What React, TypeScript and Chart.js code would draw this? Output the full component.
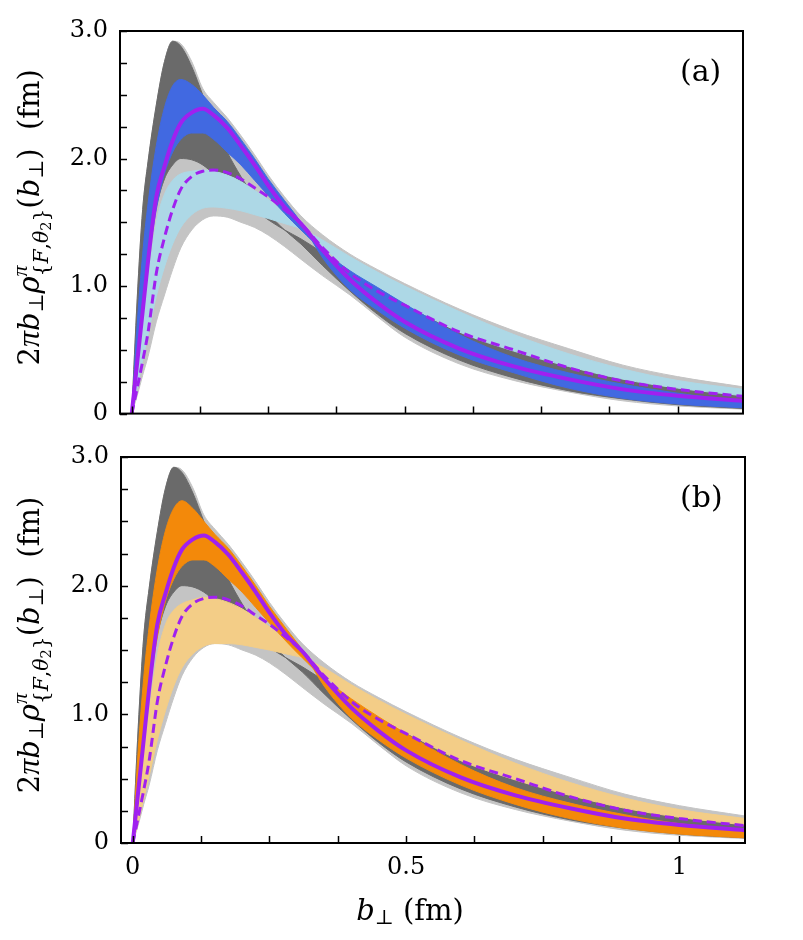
import React, { useEffect, useRef } from 'react';
import { Chart, registerables } from 'chart.js';

Chart.register(...registerables);

const FONT = '"DejaVu Serif", "Liberation Serif", serif';
const GREEK_FONT = '"Liberation Serif", "DejaVu Serif", serif';

// ---- data (b_perp in fm, density in fm) ----
const B_X = [0, 0.01, 0.02, 0.03, 0.045, 0.06, 0.075, 0.09, 0.11, 0.13, 0.15, 0.175, 0.2, 0.225, 0.25, 0.28, 0.31, 0.35, 0.4, 0.45, 0.5, 0.6, 0.7, 0.8, 0.9, 1.0, 1.12];

// purple reference curves
const PURPLE_SOLID = [0, 0.4, 0.8, 1.2, 1.7, 1.94, 2.14, 2.28, 2.36, 2.39, 2.34, 2.24, 2.1, 1.95, 1.79, 1.62, 1.49, 1.28, 1.05, 0.87, 0.72, 0.51, 0.37, 0.27, 0.19, 0.14, 0.1];
const PURPLE_DASHED = [0, 0.2, 0.41, 0.64, 1.1, 1.38, 1.6, 1.76, 1.86, 1.9, 1.91, 1.89, 1.84, 1.77, 1.7, 1.6, 1.49, 1.3, 1.1, 0.96, 0.85, 0.64, 0.5, 0.36, 0.255, 0.19, 0.135];

// gray ensemble: outer envelope and dense (dark) part
const GRAY_ENV_HI = [0, 0.9, 1.6, 1.98, 2.42, 2.76, 2.92, 2.9, 2.76, 2.55, 2.44, 2.32, 2.18, 2.03, 1.87, 1.7, 1.55, 1.4, 1.25, 1.13, 1.02, 0.82, 0.65, 0.51, 0.38, 0.29, 0.21];
const GRAY_ENV_LO = [0, 0.14, 0.3, 0.45, 0.72, 0.93, 1.13, 1.3, 1.44, 1.52, 1.55, 1.54, 1.5, 1.46, 1.4, 1.31, 1.21, 1.08, 0.93, 0.76, 0.6, 0.39, 0.26, 0.17, 0.1, 0.06, 0.035];
const GRAY_DARK_HI = [0, 0.9, 1.6, 1.98, 2.42, 2.76, 2.92, 2.88, 2.72, 2.5, 2.28, 2.05, 1.86, 1.7, 1.57, 1.44, 1.33, 1.16, 0.96, 0.78, 0.63, 0.42, 0.28, 0.18, 0.115, 0.07, 0.04];
const GRAY_DARK_LO = [0, 0.5, 0.95, 1.28, 1.62, 1.84, 1.95, 2.0, 1.99, 1.95, 1.88, 1.78, 1.69, 1.6, 1.52, 1.44, 1.37, 1.26, 1.11, 0.97, 0.85, 0.65, 0.5, 0.38, 0.28, 0.21, 0.15];

// panel (a): blue and light-blue ensembles
const BLUE_HI = [0, 0.7, 1.25, 1.65, 2.1, 2.4, 2.57, 2.62, 2.58, 2.5, 2.4, 2.29, 2.15, 2.0, 1.84, 1.67, 1.5, 1.22, 0.97, 0.81, 0.67, 0.46, 0.32, 0.2, 0.12, 0.075, 0.045];
const BLUE_LO = [0, 0.42, 0.82, 1.18, 1.6, 1.88, 2.05, 2.15, 2.2, 2.2, 2.15, 2.05, 1.95, 1.83, 1.71, 1.57, 1.44, 1.28, 1.12, 0.99, 0.86, 0.62, 0.44, 0.32, 0.23, 0.16, 0.1];
const LIGHTBLUE_HI = [0, 0.36, 0.72, 1.05, 1.5, 1.72, 1.83, 1.88, 1.9, 1.91, 1.9, 1.87, 1.82, 1.75, 1.68, 1.58, 1.48, 1.31, 1.12, 0.97, 0.86, 0.64, 0.49, 0.37, 0.27, 0.2, 0.14];
const LIGHTBLUE_LO = [0, 0.2, 0.42, 0.62, 0.92, 1.15, 1.33, 1.46, 1.56, 1.61, 1.62, 1.61, 1.59, 1.56, 1.53, 1.49, 1.45, 1.36, 1.23, 1.11, 1.0, 0.8, 0.62, 0.47, 0.35, 0.26, 0.19];

// panel (b): orange and light-orange ensembles
const ORANGE_HI = [0, 0.72, 1.28, 1.68, 2.13, 2.43, 2.6, 2.66, 2.6, 2.5, 2.4, 2.29, 2.15, 2.0, 1.84, 1.67, 1.5, 1.22, 0.97, 0.8, 0.66, 0.45, 0.3, 0.19, 0.115, 0.07, 0.04];
const ORANGE_LO = [0, 0.42, 0.82, 1.18, 1.6, 1.88, 2.05, 2.15, 2.2, 2.2, 2.15, 2.05, 1.95, 1.83, 1.71, 1.57, 1.44, 1.28, 1.12, 0.98, 0.85, 0.61, 0.43, 0.31, 0.22, 0.15, 0.1];
const LIGHTORANGE_HI = [0, 0.35, 0.7, 1.02, 1.46, 1.7, 1.81, 1.86, 1.89, 1.91, 1.9, 1.87, 1.82, 1.75, 1.68, 1.58, 1.48, 1.31, 1.12, 0.97, 0.86, 0.64, 0.49, 0.37, 0.27, 0.2, 0.14];
const LIGHTORANGE_LO = [0, 0.16, 0.34, 0.52, 0.8, 1.03, 1.22, 1.36, 1.47, 1.53, 1.55, 1.55, 1.54, 1.52, 1.5, 1.47, 1.44, 1.36, 1.23, 1.11, 1.0, 0.8, 0.62, 0.47, 0.35, 0.26, 0.19];

// axes
const X_MIN = -0.0215;
const X_MAX = 1.12;
const Y_MIN = 0;
const Y_MAX = 3.0;
const X_TICKS = [0, 0.125, 0.25, 0.375, 0.5, 0.625, 0.75, 0.875, 1.0];
const X_MAJOR = [0, 0.5, 1];
const X_MAJOR_LABELS = ['0', '0.5', '1'];
const Y_TICKS = [0, 0.25, 0.5, 0.75, 1.0, 1.25, 1.5, 1.75, 2.0, 2.25, 2.5, 2.75, 3.0];
const Y_MAJOR = [0, 1, 2, 3];
const Y_MAJOR_LABELS = ['0', '1.0', '2.0', '3.0'];

const COLORS = {
  grayLight: 'rgb(196,196,196)',
  grayDark: 'rgb(106,106,106)',
  blue: 'rgb(65,105,225)',
  lightBlue: 'rgb(173,216,230)',
  orange: 'rgb(243,137,10)',
  lightOrange: 'rgb(243,205,135)',
  purple: 'rgb(160,32,240)',
};

type Seg = { t: string; it?: boolean; sc?: number; dy?: number; ov?: boolean; g?: boolean };

const Y_LABEL: Seg[] = [
  { t: '2' }, { t: 'π', it: true, g: true, sc: 1.1 }, { t: 'b', it: true }, { t: '⊥', sc: 0.7, dy: 0.15 },
  { t: 'ρ', it: true }, { t: 'π', it: true, g: true, sc: 0.75, dy: -0.42 },
  { t: '{', sc: 0.7, dy: 0.3, ov: true }, { t: 'F', it: true, sc: 0.7, dy: 0.3 }, { t: ',', sc: 0.7, dy: 0.3 },
  { t: 'θ', it: true, sc: 0.7, dy: 0.3 }, { t: '2', sc: 0.5, dy: 0.42 }, { t: '}', sc: 0.7, dy: 0.3 },
  { t: '(' }, { t: 'b', it: true }, { t: '⊥', sc: 0.7, dy: 0.15 }, { t: ')' }, { t: '  (fm)' },
];
const X_LABEL: Seg[] = [{ t: 'b', it: true }, { t: '⊥', sc: 0.7, dy: 0.15 }, { t: ' (fm)' }];

function drawRich(ctx: CanvasRenderingContext2D, segs: Seg[], size: number, cx: number, cy: number, rot: number) {
  const items: { s: Seg; x: number; font: string }[] = [];
  let x = 0;
  let prevStart = 0;
  for (const s of segs) {
    const fs = size * (s.sc ?? 1);
    const font = `${s.it ? 'italic ' : ''}${fs}px ${s.g ? GREEK_FONT : FONT}`;
    ctx.font = font;
    const w = ctx.measureText(s.t).width;
    const start = s.ov ? prevStart : x;
    items.push({ s, x: start, font });
    x = start + w;
    prevStart = start;
  }
  const total = x;
  ctx.save();
  ctx.translate(cx, cy);
  ctx.rotate(rot);
  ctx.fillStyle = '#000';
  ctx.textBaseline = 'alphabetic';
  ctx.textAlign = 'left';
  for (const it of items) {
    ctx.font = it.font;
    ctx.fillText(it.s.t, it.x - total / 2, (it.s.dy ?? 0) * size);
  }
  ctx.restore();
}

function pts(ys: number[]) {
  return B_X.map((x, i) => ({ x, y: ys[i] }));
}

function band(upper: number[], lower: number[], color: string, order: number, name: string) {
  const common = {
    borderColor: color,
    borderWidth: 1,
    pointRadius: 0,
    cubicInterpolationMode: 'monotone',
    order,
  };
  return [
    { ...common, label: name + ' upper', data: pts(upper), backgroundColor: color, fill: '+1' },
    { ...common, label: name + ' lower', data: pts(lower), backgroundColor: color, fill: false },
  ];
}

function makeDecor(panel: 'a' | 'b') {
  return {
    id: 'decor' + panel,
    afterDraw(chart: any) {
      const { ctx, chartArea: a, scales } = chart;
      ctx.save();
      ctx.strokeStyle = '#000';
      ctx.lineWidth = 1.5;
      ctx.beginPath();
      for (const t of scales.x.ticks) {
        const px = Math.round(scales.x.getPixelForValue(t.value)) + 0.5;
        ctx.moveTo(px, a.bottom);
        ctx.lineTo(px, a.bottom - 7);
      }
      for (const t of scales.y.ticks) {
        const py = Math.round(scales.y.getPixelForValue(t.value)) + 0.5;
        ctx.moveTo(a.left, py);
        ctx.lineTo(a.left + 7, py);
      }
      ctx.stroke();
      ctx.lineWidth = 2;
      ctx.strokeRect(a.left, a.top, a.right - a.left, a.bottom - a.top);
      ctx.fillStyle = '#000';
      ctx.font = `30px ${FONT}`;
      ctx.textAlign = 'left';
      ctx.textBaseline = 'alphabetic';
      ctx.fillText(panel === 'a' ? '(a)' : '(b)', 680, a.top + 50);
      ctx.restore();
      drawRich(ctx, Y_LABEL, 29, 39, (a.top + a.bottom) / 2 - 5, -Math.PI / 2);
      if (panel === 'b') {
        drawRich(ctx, X_LABEL, 29, 410, 500, 0);
      }
    },
  };
}

function makeConfig(panel: 'a' | 'b') {
  const isA = panel === 'a';
  const datasets: any[] = [
    {
      label: 'reference (solid)', data: pts(PURPLE_SOLID), borderColor: COLORS.purple, borderWidth: 4,
      pointRadius: 0, fill: false, cubicInterpolationMode: 'monotone', order: 1,
    },
    {
      label: 'reference (dashed)', data: pts(PURPLE_DASHED), borderColor: COLORS.purple, borderWidth: 3,
      borderDash: [9, 5], pointRadius: 0, fill: false, cubicInterpolationMode: 'monotone', order: 2,
    },
    ...band(isA ? BLUE_HI : ORANGE_HI, isA ? BLUE_LO : ORANGE_LO, isA ? COLORS.blue : COLORS.orange, 3, 'strong'),
    ...band(isA ? LIGHTBLUE_HI : LIGHTORANGE_HI, isA ? LIGHTBLUE_LO : LIGHTORANGE_LO, isA ? COLORS.lightBlue : COLORS.lightOrange, 4, 'weak'),
    ...band(GRAY_DARK_HI, GRAY_DARK_LO, COLORS.grayDark, 5, 'gray dense'),
    ...band(GRAY_ENV_HI, GRAY_ENV_LO, COLORS.grayLight, 6, 'gray envelope'),
  ];
  const tickFont = { family: FONT, size: 24 };
  return {
    type: 'line',
    data: { datasets },
    options: {
      responsive: false,
      animation: false,
      devicePixelRatio: 1,
      events: [],
      layout: { padding: { top: isA ? 31 : 37, right: isA ? 60 : 58, left: 0, bottom: 0 } },
      plugins: { legend: { display: false }, tooltip: { enabled: false } },
      scales: {
        x: {
          type: 'linear',
          min: X_MIN,
          max: X_MAX,
          grid: { display: false, drawTicks: false },
          border: { display: false },
          afterBuildTicks: (s: any) => { s.ticks = X_TICKS.map((v) => ({ value: v })); },
          afterFit: (s: any) => { s.height = isA ? 25 : 97; },
          ticks: {
            display: !isA,
            autoSkip: false,
            maxRotation: 0,
            padding: 10,
            color: '#000',
            font: tickFont,
            callback: (v: number) => { const i = X_MAJOR.indexOf(v); return i >= 0 ? X_MAJOR_LABELS[i] : ''; },
          },
        },
        y: {
          type: 'linear',
          min: Y_MIN,
          max: Y_MAX,
          grid: { display: false, drawTicks: false },
          border: { display: false },
          afterBuildTicks: (s: any) => { s.ticks = Y_TICKS.map((v) => ({ value: v })); },
          afterFit: (s: any) => { s.width = isA ? 120 : 121; },
          ticks: {
            autoSkip: false,
            padding: 12,
            color: '#000',
            font: tickFont,
            callback: (v: number) => { const i = Y_MAJOR.indexOf(v); return i >= 0 ? Y_MAJOR_LABELS[i] : ''; },
          },
        },
      },
    },
    plugins: [makeDecor(panel)],
  };
}

export default function App() {
  const refA = useRef<HTMLCanvasElement>(null);
  const refB = useRef<HTMLCanvasElement>(null);
  useEffect(() => {
    const ca = new Chart(refA.current as HTMLCanvasElement, makeConfig('a') as any);
    const cb = new Chart(refB.current as HTMLCanvasElement, makeConfig('b') as any);
    return () => { ca.destroy(); cb.destroy(); };
  }, []);
  return (
    <div style={{ position: 'absolute', left: 0, top: 0, width: 803, height: 940, background: '#fff' }}>
      <canvas ref={refA} width={803} height={440} style={{ position: 'absolute', left: 0, top: 0, width: 803, height: 440 }} />
      <canvas ref={refB} width={803} height={520} style={{ position: 'absolute', left: 0, top: 420, width: 803, height: 520 }} />
    </div>
  );
}
